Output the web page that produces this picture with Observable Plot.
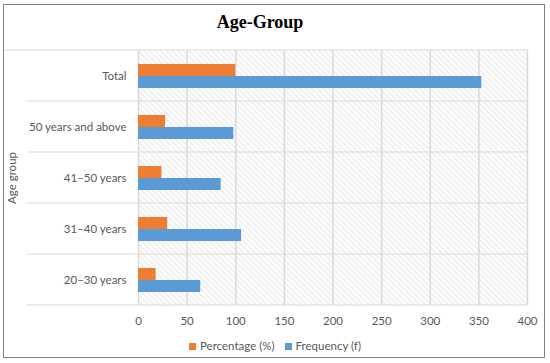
<!DOCTYPE html>
<html><head><meta charset="utf-8">
<script src="https://cdn.jsdelivr.net/npm/d3@7"></script>
<script src="https://cdn.jsdelivr.net/npm/@observablehq/plot@0.6"></script>
<style>
body{margin:0;background:#fff;}
#wrap{position:relative;width:550px;height:363px;overflow:hidden;font-family:Lato,sans-serif;}
#border{position:absolute;left:3px;top:4px;width:542px;height:354px;border:1.5px solid #7f7f7f;box-sizing:border-box;}
#title{position:absolute;left:0;width:520px;top:12px;text-align:center;font:bold 18px "Liberation Serif",serif;color:#000;}
#chart{position:absolute;left:0;top:40px;}
#legend{position:absolute;top:339px;left:0;width:550px;text-align:center;font-size:11.5px;color:#595959;}
#legend span.item{display:inline-block;margin:0 5px;}
#legend span.sw{display:inline-block;width:7px;height:7px;margin-right:4px;vertical-align:0px;}
</style></head>
<body>
<div id="wrap">
  <div id="border"></div>
  <div id="title">Age-Group</div>
  <div id="chart"></div>
  <div id="legend"></div>
</div>
<script>
const categories = ["Total", "50 years and above", "41–50 years", "31–40 years", "20–30 years"];
const percentage = [100, 27.8, 24.1, 30.0, 18.1];
const frequency = [353, 98, 85, 106, 64];
const series = ["Percentage (%)", "Frequency (f)"];
const colors = ["#ED7D31", "#5B9BD5"];
const xTicks = [0, 50, 100, 150, 200, 250, 300, 350, 400];

const rows = [];
categories.forEach((c, i) => {
  rows.push({category: c, series: series[0], value: percentage[i]});
  rows.push({category: c, series: series[1], value: frequency[i]});
});

const chart = Plot.plot({
  width: 550, height: 300,
  marginTop: 10, marginBottom: 35, marginLeft: 138, marginRight: 23,
  style: {fontFamily: "Lato, sans-serif", fontSize: "11.5px", color: "#595959", background: "transparent", overflow: "visible"},
  x: {domain: [0, 400], ticks: xTicks, tickSize: 0, tickPadding: 11, label: null},
  y: {domain: series, axis: null, paddingInner: 0, paddingOuter: 1.1},
  fy: {domain: categories, padding: 0, axis: "left", tickSize: 0, tickPadding: 12, label: "Age group", labelAnchor: "center", labelOffset: 131},
  color: {domain: series, range: colors},
  marks: [
    Plot.frame({fill: "url(#hatch)", stroke: "none"}),
    Plot.gridX({ticks: xTicks, stroke: "#d9d9d9", strokeOpacity: 1, strokeWidth: 1.5}),
    Plot.barX(rows, {x: "value", y: "series", fy: "category", fill: "series"})
  ]
});
document.getElementById("chart").appendChild(chart);

const svg = d3.select(chart);
const defs = svg.insert("defs", ":first-child");
const pat = defs.append("pattern").attr("id", "hatch").attr("patternUnits", "userSpaceOnUse")
  .attr("width", 4).attr("height", 4).attr("patternTransform", "rotate(45)");
pat.append("rect").attr("width", 4).attr("height", 4).attr("fill", "#ffffff");
pat.append("line").attr("x1", 0).attr("x2", 4).attr("y1", 2).attr("y2", 2)
  .attr("stroke", "#e2e2e2").attr("stroke-width", 1);

const fy = chart.scale("fy");
const xs = chart.scale("x");
const bw = fy.bandwidth;
const xRight = xs.apply(400);
const bounds = categories.map(c => fy.apply(c)).concat([fy.apply(categories[categories.length - 1]) + bw]);
svg.append("g").selectAll("line").data(bounds).join("line")
  .attr("x1", (d, i) => i === 0 ? 5 : 27).attr("x2", xRight)
  .attr("y1", d => d).attr("y2", d => d)
  .attr("stroke", "#d9d9d9").attr("stroke-width", 1.2);

const legend = d3.select("#legend");
series.forEach((s, i) => {
  const it = legend.append("span").attr("class", "item");
  it.append("span").attr("class", "sw").style("background", colors[i]);
  it.append("span").text(s);
});
</script>
</body></html>
